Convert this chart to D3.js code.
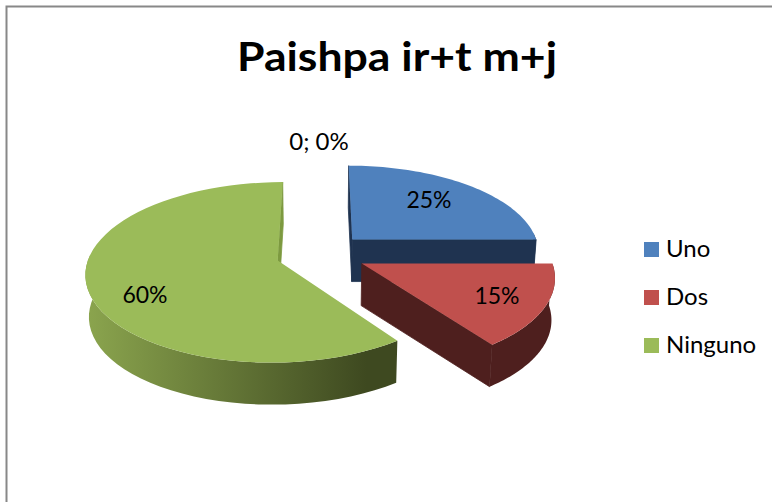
<!DOCTYPE html>
<html>
<head>
<meta charset="utf-8">
<script src="https://cdn.jsdelivr.net/npm/d3@7"></script>
<style>
  html, body { margin: 0; padding: 0; background: #fff; }
  svg { display: block; }
  text { font-family: Lato, "Open Sans", sans-serif; fill: #000; }
</style>
</head>
<body>
<div id="chart"></div>
<script>
// Chart data
const titleText = 'Paishpa ir+t m+j';
const categories = ['Uno', 'Dos', 'Ninguno'];
const percents = [25, 15, 60];
const zeroLabel = '0; 0%';

// Slice colours: top face, wall, arc wall gradient (left, right)
const topColors = ['#4f81bd', '#c0504d', '#9bbb59'];
const wallColors = ['#1f3350', '#4e1f1e', '#7d9a40'];
const arcColors = [['#1f3350', '#1f3350'], ['#4e1f1e', '#4e1f1e'], ['#8ba54e', '#3e4920']];

const width = 772;
const height = 502;

// Fake 3D pie: unit disc seen in perspective
const center = { x: 321, y: 254 };
const radiusX = 188;
const radiusY = 87;
const perspective = 0.13;
const explode = 0.24;
const depth = 42;
const bottomShrink = 0.015;
const labelSpots = [[429, 200], [497, 296], [145, 295]];

const svg = d3.select('#chart').append('svg')
  .attr('width', width)
  .attr('height', height);

// Scales from projected disc coordinates to pixels
const xScale = d3.scaleLinear().domain([-1, 1]).range([center.x - radiusX, center.x + radiusX]);
const yScale = d3.scaleLinear().domain([-1, 1]).range([center.y - radiusY, center.y + radiusY]);

function project(u, v, bottom) {
  const w = 1 - perspective * v;
  const s = bottom ? 1 - bottomShrink : 1;
  return [xScale((u / w) * s), yScale(v / w) + (bottom ? depth : 0)];
}

const line = d3.line();

// Frame: only top and left edges show in the picture
svg.append('path')
  .attr('d', 'M772,6.5H6.5V502')
  .attr('fill', 'none')
  .attr('stroke', '#888')
  .attr('stroke-width', 2);

const defs = svg.append('defs');
const pie = d3.pie().sort(null).value(d => d);
const slices = pie(percents);

function drawSlice(d, i) {
  const mid = (d.startAngle + d.endAngle) / 2;
  const ou = explode * Math.sin(mid);
  const ov = -explode * Math.cos(mid);
  const angles = d3.range(0, 61).map(k => d.startAngle + (d.endAngle - d.startAngle) * k / 60);
  const rim = angles.map(a => [ou + Math.sin(a), ov - Math.cos(a)]);

  const g = svg.append('g');
  const apexTop = project(ou, ov, false);
  const apexBot = project(ou, ov, true);
  const rimTop = rim.map(p => project(p[0], p[1], false));
  const rimBot = rim.map(p => project(p[0], p[1], true));

  const gradId = `arc-grad-${i}`;
  const grad = defs.append('linearGradient')
    .attr('id', gradId)
    .attr('gradientUnits', 'userSpaceOnUse')
    .attr('x1', d3.min(rimTop, p => p[0]))
    .attr('x2', d3.max(rimTop, p => p[0]))
    .attr('y1', 0)
    .attr('y2', 0);
  grad.append('stop').attr('offset', 0).attr('stop-color', arcColors[i][0]);
  grad.append('stop').attr('offset', 0.9).attr('stop-color', arcColors[i][1]);

  // arc wall, front part of the rim only
  const front = angles.map((a, k) => k).filter(k => Math.cos(angles[k]) < 0.1);
  if (front.length > 1) {
    const upper = front.map(k => rimTop[k]);
    const lower = front.map(k => rimBot[k]).reverse();
    g.append('path')
      .attr('d', line(upper.concat(lower)) + 'Z')
      .attr('fill', `url(#${gradId})`);
  }

  // radial walls, back-facing ones are skipped; thin stroke closes the seam with the arc wall
  const startWall = [apexTop, rimTop[0], rimBot[0], apexBot];
  const endWall = [rimTop[60], apexTop, apexBot, rimBot[60]];
  [startWall, endWall].forEach(wall => {
    if (d3.polygonArea(wall) > 0) {
      g.append('path')
        .attr('d', line(wall) + 'Z')
        .attr('fill', wallColors[i])
        .attr('stroke', wallColors[i])
        .attr('stroke-width', 0.8);
    }
  });

  g.append('path')
    .attr('d', line([apexTop].concat(rimTop)) + 'Z')
    .attr('fill', topColors[i]);
}

// Back to front
[0, 2, 1].forEach(i => drawSlice(slices[i], i));

// Data labels
svg.selectAll('.pct')
  .data(percents)
  .enter()
  .append('text')
  .attr('class', 'pct')
  .attr('x', (d, i) => labelSpots[i][0])
  .attr('y', (d, i) => labelSpots[i][1] + 8)
  .attr('text-anchor', 'middle')
  .style('font-size', '23px')
  .text(d => `${d}%`);

svg.append('text')
  .attr('x', 319)
  .attr('y', 150)
  .attr('text-anchor', 'middle')
  .style('font-size', '24px')
  .text(zeroLabel);

// Title
svg.append('text')
  .attr('x', 397)
  .attr('y', 71)
  .attr('text-anchor', 'middle')
  .attr('textLength', 320)
  .attr('lengthAdjust', 'spacingAndGlyphs')
  .style('font-size', '41px')
  .style('font-weight', 700)
  .text(titleText);

// Legend
const legendY = d3.scalePoint().domain(categories).range([242, 338]);
const legend = svg.selectAll('.legend')
  .data(categories)
  .enter()
  .append('g')
  .attr('class', 'legend')
  .attr('transform', d => `translate(644,${legendY(d)})`);

legend.append('rect')
  .attr('width', 15)
  .attr('height', 15)
  .attr('fill', (d, i) => topColors[i]);

legend.append('text')
  .attr('x', 22)
  .attr('y', 15)
  .style('font-size', '24px')
  .text(d => d);
</script>
</body>
</html>
